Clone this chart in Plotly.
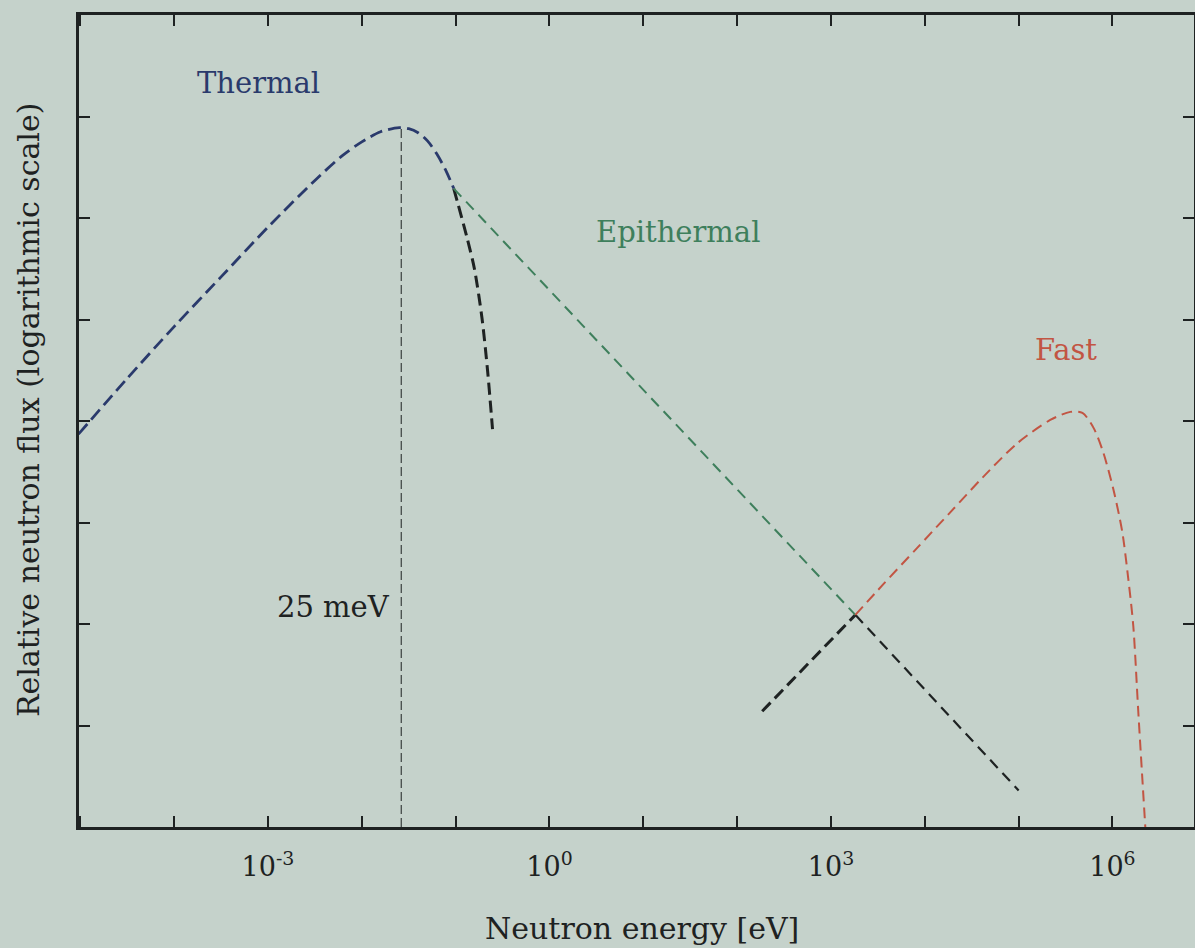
import plotly.graph_objects as go

# ---- data (log10 of energy in eV, log10 of relative flux) ----
thermal_logE = [-5.02, -4.5, -4.0, -3.5, -3.0, -2.5, -2.2, -2.0, -1.8, -1.6, -1.5, -1.4, -1.3, -1.2, -1.1, -1.02]
thermal_logF = [3.87, 4.42, 4.93, 5.42, 5.91, 6.37, 6.62, 6.75, 6.85, 6.89, 6.88, 6.84, 6.76, 6.63, 6.46, 6.29]

thermal_tail_logE = [-1.02, -0.874, -0.80, -0.72, -0.66, -0.607]
thermal_tail_logF = [6.29, 5.79, 5.50, 5.02, 4.50, 3.92]

epi_logE = [-1.02, 3.26]
epi_logF = [6.29, 2.09]

epi_tail_logE = [3.26, 5.0]
epi_tail_logF = [2.09, 0.36]

fast_logE = [3.26, 3.556, 3.919, 4.271, 4.623, 4.985, 5.337, 5.55, 5.68, 5.80, 5.902, 6.009, 6.104, 6.168, 6.222, 6.275, 6.35]
fast_logF = [2.09, 2.39, 2.75, 3.10, 3.45, 3.78, 4.01, 4.09, 4.08, 3.93, 3.69, 3.33, 2.91, 2.45, 1.98, 1.14, 0.0]

fast_lead_logE = [2.267, 3.26]
fast_lead_logF = [1.14, 2.09]

peak_logE = -1.58
peak_logF = 6.89

x_tick_exps = [-5, -4, -3, -2, -1, 0, 1, 2, 3, 4, 5, 6]
x_label_exps = [-3, 0, 3, 6]
y_tick_exps = [1, 2, 3, 4, 5, 6, 7]

# ---- styling ----
BG = "#c5d2cb"
NAVY = "#2a3a6c"
GREEN = "#3e7f5c"
RED = "#c25543"
BLACK = "#1e2222"
FONT = "DejaVu Serif"


def tp(v):
    return [10 ** a for a in v]


fig = go.Figure()


def add(xs, ys, color, width, dash, shape="spline"):
    fig.add_trace(go.Scatter(
        x=tp(xs), y=tp(ys), mode="lines",
        line=dict(color=color, width=width, dash=dash, shape=shape, smoothing=0.8),
        hoverinfo="skip", showlegend=False))


add(thermal_tail_logE, thermal_tail_logF, BLACK, 3, "12px,6px")
add(epi_tail_logE, epi_tail_logF, BLACK, 2.2, "11px,7px", "linear")
add(fast_lead_logE, fast_lead_logF, BLACK, 3, "12px,6px", "linear")
add(thermal_logE, thermal_logF, NAVY, 2.8, "13px,6px")
add(epi_logE, epi_logF, GREEN, 2, "11px,7px", "linear")
add(fast_logE, fast_logF, RED, 2, "11px,6px")

# vertical 25 meV line
fig.add_trace(go.Scatter(
    x=[10 ** peak_logE, 10 ** peak_logE], y=[1, 10 ** peak_logF], mode="lines",
    line=dict(color=BLACK, width=1, dash="9px,4px"), hoverinfo="skip", showlegend=False))

fig.update_layout(
    width=1195, height=948,
    margin=dict(l=79, r=1, t=15, b=121),
    paper_bgcolor=BG, plot_bgcolor=BG,
    font=dict(family=FONT, size=27, color=BLACK),
    xaxis=dict(
        type="log", range=[-5.014, 6.869],
        tickvals=[10 ** e for e in x_label_exps],
        ticktext=["10<sup>%d</sup>" % e for e in x_label_exps],
        ticks="inside", ticklen=11, tickwidth=2, tickcolor=BLACK,
        minor=dict(tickvals=[10 ** e for e in x_tick_exps], ticks="inside",
                   ticklen=11, tickwidth=2, tickcolor=BLACK, showgrid=False),
        ticklabelstandoff=14,
        showline=True, linecolor=BLACK, linewidth=2.5, mirror="ticks",
        showgrid=False, zeroline=False, automargin=False,
        tickfont=dict(family=FONT, size=27, color=BLACK),
    ),
    yaxis=dict(
        type="log", range=[0, 8.0],
        tickvals=[10 ** e for e in y_tick_exps],
        showticklabels=False,
        ticks="inside", ticklen=11, tickwidth=2, tickcolor=BLACK,
        showline=True, linecolor=BLACK, linewidth=2.5, mirror="ticks",
        showgrid=False, zeroline=False, automargin=False,
    ),
)

# axis titles as annotations for precise placement
fig.add_annotation(x=0.505, y=-0.1244, xref="paper", yref="paper",
                   text="Neutron energy [eV]", showarrow=False,
                   font=dict(family=FONT, size=30, color=BLACK),
                   xanchor="center", yanchor="middle")
fig.add_annotation(x=-0.0457, y=0.5135, xref="paper", yref="paper",
                   text="Relative neutron flux (logarithmic scale)", showarrow=False,
                   textangle=-90,
                   font=dict(family=FONT, size=30, color=BLACK),
                   xanchor="center", yanchor="middle")

labels = [
    ("Thermal", -3.096, 7.33, NAVY),
    ("Epithermal", 1.37, 5.86, GREEN),
    ("Fast", 5.50, 4.70, RED),
    ("25 meV", -2.30, 2.17, BLACK),
]
for text, lx, ly, col in labels:
    fig.add_annotation(x=lx, y=ly, xref="x", yref="y", text=text, showarrow=False,
                       font=dict(family=FONT, size=29, color=col),
                       xanchor="center", yanchor="middle")

fig.write_html(
    "out.html",
    config={"displayModeBar": False},
    post_script="document.body.style.margin='0px';document.body.style.background='%s';" % BG,
)
